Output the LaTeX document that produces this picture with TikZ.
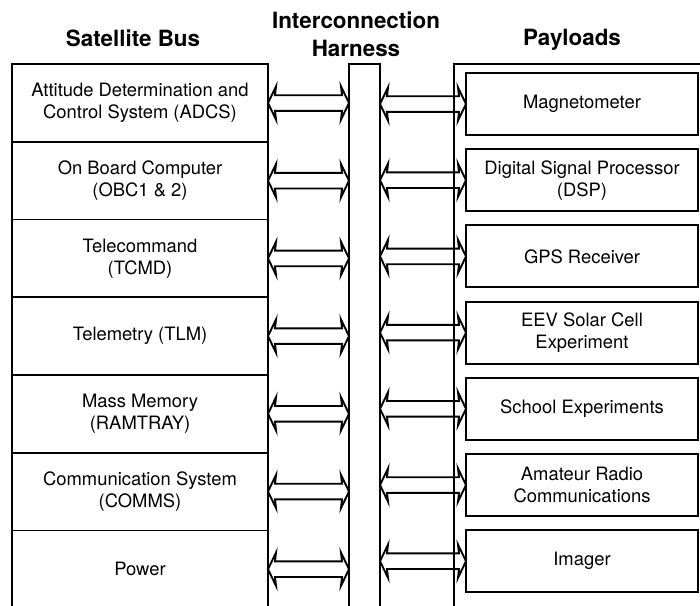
\documentclass[tikz,border=0pt]{standalone}
\usepackage{fontspec}
\setmainfont{TeX Gyre Heros}
\usepackage{tikz}
\usetikzlibrary{positioning,calc}

\begin{document}
\begin{tikzpicture}[
  x=0.5pt, y=-0.5pt,
  node distance=0pt,
  busbox/.style={rectangle,draw,line width=0.85pt,outer sep=0pt,
    minimum width=128pt,minimum height=38.85pt,align=center,
    font=\fontsize{9.2}{11}\selectfont},
  paybox/.style={rectangle,draw,line width=1pt,outer sep=0pt,
    minimum width=116pt,minimum height=31pt,align=center,
    font=\fontsize{9.2}{11}\selectfont},
  frame/.style={rectangle,draw,line width=1pt,outer sep=0pt},
  header/.style={align=center,font=\fontsize{11.2}{14}\selectfont\bfseries},
  busarrow/.style={line width=0.95pt,line join=miter,
    to path={let \p1=(\tikztostart), \p2=(\tikztotarget) in
      (\x1,\y1) -- (\x1+4pt,\y1+8.3pt) -- (\x1+3.5pt,\y1+3.9pt)
      -- (\x2-3.5pt,\y1+3.9pt) -- (\x2-4pt,\y1+8.3pt) -- (\x2,\y1)
      -- (\x2-4pt,\y1-8.3pt) -- (\x2-3.5pt,\y1-3.9pt)
      -- (\x1+3.5pt,\y1-3.9pt) -- (\x1+4pt,\y1-8.3pt) -- cycle}}
]
\useasboundingbox (0,0) rectangle (700,605);
\clip (0,0) rectangle (700,605);

% headings
\node[header] (hbus)  at (133,38) {Satellite Bus};
\node[header] (hharn) at (356,34) {Interconnection\\Harness};
\node[header] (hpay)  at (572,40) {Payloads};

% satellite bus column
\node[busbox] (adcs) at (140,103) {Attitude Determination and\\Control System (ADCS)};
\node[busbox, below=of adcs]  (obc)   {On Board Computer\\(OBC1 \& 2)};
\node[busbox, below=of obc]   (tcmd)  {Telecommand\\(TCMD)};
\node[busbox, below=of tcmd]  (tlm)   {Telemetry (TLM)};
\node[busbox, below=of tlm]   (ram)   {Mass Memory\\(RAMTRAY)};
\node[busbox, below=of ram]   (comms) {Communication System\\(COMMS)};
\node[busbox, below=of comms] (power) {Power};

% harness and payload frame
\node[frame, anchor=north west, minimum width=15.5pt, minimum height=290pt]
  (harness) at (349,64) {};
\node[frame, anchor=north west, minimum width=140pt, minimum height=290pt]
  (payframe) at (454,64) {};

% payloads
\node[paybox] (mag) at (582,104) {Magnetometer};
\node[paybox, below=7.1pt of mag]    (dsp)    {Digital Signal Processor\\(DSP)};
\node[paybox, below=7.1pt of dsp]    (gps)    {GPS Receiver};
\node[paybox, below=7.1pt of gps]    (eev)    {EEV Solar Cell\\Experiment};
\node[paybox, below=7.1pt of eev]    (school) {School Experiments};
\node[paybox, below=7.1pt of school] (radio)  {Amateur Radio\\Communications};
\node[paybox, below=7.1pt of radio]  (imager) {Imager};

\foreach \s in {adcs,obc,tcmd,tlm,ram,comms,power}
  \draw[busarrow] (\s.east) to (harness.west |- \s.east);
\foreach \t in {mag,dsp,gps,eev,school,radio,imager}
  \draw[busarrow] (harness.east |- \t.west) to (\t.west);
\end{tikzpicture}
\end{document}
